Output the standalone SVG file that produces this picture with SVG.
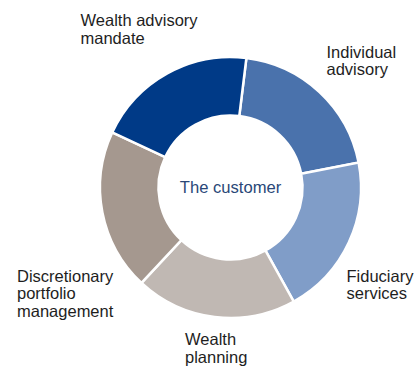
<svg xmlns="http://www.w3.org/2000/svg" width="414" height="366" viewBox="0 0 414 366">
<style>
.seg{stroke:#ffffff;stroke-width:2.5;stroke-linejoin:miter}
.lbl{font-family:"Liberation Sans",Arial,sans-serif;font-size:16.5px;fill:#1e1e1e}
.ctr{font-family:"Liberation Sans",Arial,sans-serif;font-size:16.6px;fill:#2a4878}
</style>
<rect width="414" height="366" fill="#ffffff"/>
<g id="individual-advisory">
<path class="seg" fill="#4A72AC" d="M246.404,57.972 A130.5,130.5 0 0 1 358.603,162.599 L301.177,173.762 A72,72 0 0 0 239.275,116.036 Z"/>
<text class="lbl" x="326.5" y="57.5">Individual</text>
<text class="lbl" x="326.5" y="74.5">advisory</text>
</g>
<g id="fiduciary-services">
<path class="seg" fill="#809DC8" d="M358.603,162.599 A130.5,130.5 0 0 1 293.768,301.638 L265.406,250.473 A72,72 0 0 0 301.177,173.762 Z"/>
<text class="lbl" x="346.5" y="281.5">Fiduciary</text>
<text class="lbl" x="346.5" y="299">services</text>
</g>
<g id="wealth-planning">
<path class="seg" fill="#C0B8B3" d="M293.768,301.638 A130.5,130.5 0 0 1 141.499,282.941 L181.396,240.157 A72,72 0 0 0 265.406,250.473 Z"/>
<text class="lbl" x="185" y="345">Wealth</text>
<text class="lbl" x="185" y="362.5">planning</text>
</g>
<g id="discretionary-portfolio-management">
<path class="seg" fill="#A5988F" d="M141.499,282.941 A130.5,130.5 0 0 1 112.227,132.348 L165.246,157.071 A72,72 0 0 0 181.396,240.157 Z"/>
<text class="lbl" x="17" y="281.5">Discretionary</text>
<text class="lbl" x="17" y="299">portfolio</text>
<text class="lbl" x="17" y="316.5">management</text>
</g>
<g id="wealth-advisory-mandate">
<path class="seg" fill="#003A87" d="M112.227,132.348 A130.5,130.5 0 0 1 246.404,57.972 L239.275,116.036 A72,72 0 0 0 165.246,157.071 Z"/>
<text class="lbl" x="80.5" y="26">Wealth advisory</text>
<text class="lbl" x="80.5" y="43.5">mandate</text>
</g>
<g id="the-customer">
<text class="ctr" x="230.5" y="193" text-anchor="middle">The customer</text>
</g>
<g id="connectors"/>
</svg>
